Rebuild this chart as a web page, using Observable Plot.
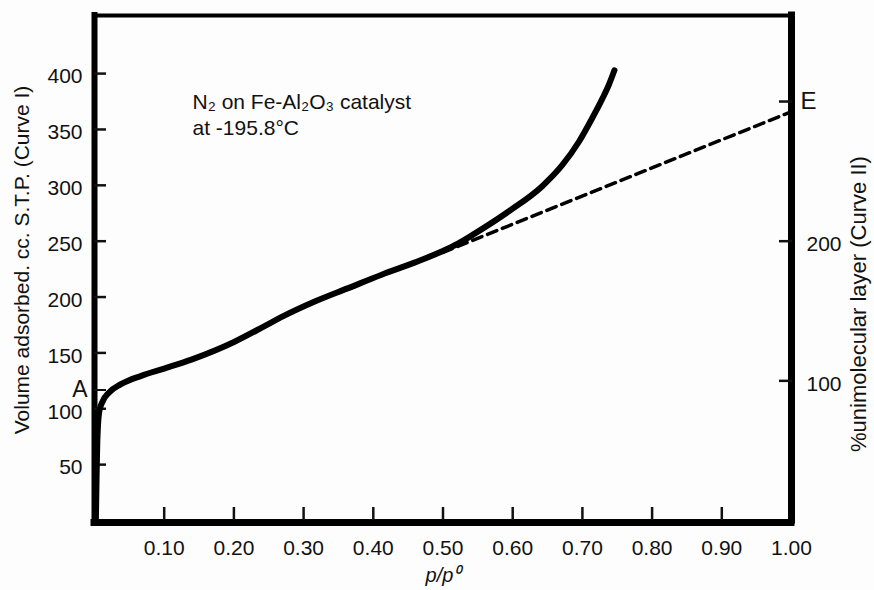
<!DOCTYPE html>
<html>
<head>
<meta charset="utf-8">
<script src="https://cdn.jsdelivr.net/npm/d3@7"></script>
<script src="https://cdn.jsdelivr.net/npm/@observablehq/plot@0.6"></script>
<style>
  html, body { margin: 0; padding: 0; background: #fdfdfd; }
  #chart svg { display: block; }
</style>
</head>
<body>
<div id="chart"></div>
<script>
// ---- data ----
// Curve I: volume adsorbed (cc STP) vs relative pressure p/p0
const curveP = [0.002, 0.003, 0.004, 0.005, 0.007, 0.012, 0.021, 0.038, 0.067, 0.100, 0.139, 0.201, 0.244, 0.268, 0.316, 0.364, 0.412, 0.460, 0.499, 0.522, 0.546, 0.595, 0.642, 0.671, 0.695, 0.714, 0.729, 0.738, 0.746];
const curveV = [0, 40, 70, 85, 98, 107, 114.6, 122, 129.5, 136, 144, 160, 174, 182, 196, 208, 220, 231, 241, 248, 257, 277, 299, 318, 339, 360, 378, 390, 403];
// dashed extrapolation of the linear part (to point E)
const extrapP = [0.50, 1.00];
const extrapV = [240, 366];
// axes
const xTickValues = [0.10, 0.20, 0.30, 0.40, 0.50, 0.60, 0.70, 0.80, 0.90, 1.00];
const xTickMarks = [0.10, 0.20, 0.30, 0.40, 0.50, 0.60, 0.70, 0.80, 0.90];
const leftTicks = [50, 100, 150, 200, 250, 300, 350, 400];
const rightTicks = [100, 200];          // % unimolecular layer
const volumePerPercent = 1.25;          // 100 % monolayer = 125 cc
const pointA = 115;                     // volume at point A
const pointE = 300;                     // % at point E
const xLabel = "p/p⁰";
const yLabelLeft = "Volume adsorbed. cc. S.T.P. (Curve I)";
const yLabelRight = "%unimolecular layer (Curve II)";
const noteLines = ["N₂ on Fe-Al₂O₃ catalyst", "at -195.8°C"];

const curve = curveP.map((p, i) => ({p, v: curveV[i]}));
const extrap = extrapP.map((p, i) => ({p, v: extrapV[i]}));
const font = "'Liberation Sans', Arial, Helvetica, sans-serif";
const ink = "#111";

const chart = Plot.plot({
  width: 874,
  height: 590,
  marginLeft: 94,
  marginRight: 83,
  marginTop: 15,
  marginBottom: 70,
  style: {fontFamily: font, fontSize: "20px", color: ink, background: "#fdfdfd", overflow: "visible"},
  x: {domain: [0, 1], axis: null},
  y: {domain: [0, 452], axis: null},
  marks: [
    // frame
    Plot.ruleX([0], {stroke: "#000", strokeWidth: 6, strokeLinecap: "square"}),
    Plot.ruleX([1], {stroke: "#000", strokeWidth: 7, strokeLinecap: "square"}),
    Plot.ruleY([0], {stroke: "#000", strokeWidth: 7, strokeLinecap: "square", dy: 2}),
    Plot.ruleY([452], {stroke: "#000", strokeWidth: 4, strokeLinecap: "square"}),
    // x axis: inward ticks + labels
    Plot.axisX({ticks: xTickMarks, tickSize: -13, tickFormat: () => "", strokeWidth: 2.5, label: null}),
    Plot.axisX({ticks: xTickValues, tickSize: 0, tickPadding: 20, tickFormat: d3.format(".2f"), fontSize: 21, label: null}),
    // left axis
    Plot.axisY({anchor: "left", ticks: leftTicks, tickSize: -12, tickFormat: () => "", strokeWidth: 2.5, label: null}),
    Plot.axisY({anchor: "left", ticks: leftTicks, tickSize: 0, tickPadding: 12, fontSize: 21, dy: 3, label: null}),
    Plot.axisY({anchor: "left", ticks: [pointA], tickSize: -12, tickPadding: 19, strokeWidth: 2, fontSize: 23, dy: -2, tickFormat: () => "A", label: null}),
    // right axis (percent of monolayer)
    Plot.axisY({anchor: "right", ticks: rightTicks.map(d => d * volumePerPercent), tickSize: -13, tickFormat: () => "", strokeWidth: 2.5, label: null}),
    Plot.axisY({anchor: "right", ticks: rightTicks.map(d => d * volumePerPercent), tickSize: 0, tickPadding: 15, fontSize: 21, dy: 3, tickFormat: d => Math.round(d / volumePerPercent), label: null}),
    Plot.axisY({anchor: "right", ticks: [pointE * volumePerPercent], tickSize: -13, tickPadding: 22, strokeWidth: 2.5, fontSize: 24, tickFormat: () => "E", label: null}),
    // axis titles
    Plot.text([xLabel], {text: d => d, frameAnchor: "bottom", dy: 61, fontStyle: "italic", fontSize: 20}),
    Plot.text([yLabelLeft], {text: d => d, frameAnchor: "left", textAnchor: "middle", rotate: -90, dx: -72, dy: -8, fontSize: 21}),
    Plot.text([yLabelRight], {text: d => d, frameAnchor: "right", textAnchor: "middle", rotate: -90, dx: 67, dy: 36, fontSize: 22}),
    // annotation
    Plot.text([noteLines.join("\n")], {text: d => d, frameAnchor: "top-left", dx: 98, dy: 75, textAnchor: "start", lineAnchor: "top", fontSize: 21, lineHeight: 1.25}),
    // curves
    Plot.line(extrap, {x: "p", y: "v", stroke: "#000", strokeWidth: 3.5, strokeDasharray: "10,6"}),
    Plot.line(curve, {x: "p", y: "v", stroke: "#000", strokeWidth: 6, curve: "monotone-x", strokeLinecap: "round", strokeLinejoin: "round"})
  ]
});
document.getElementById("chart").appendChild(chart);
</script>
</body>
</html>
